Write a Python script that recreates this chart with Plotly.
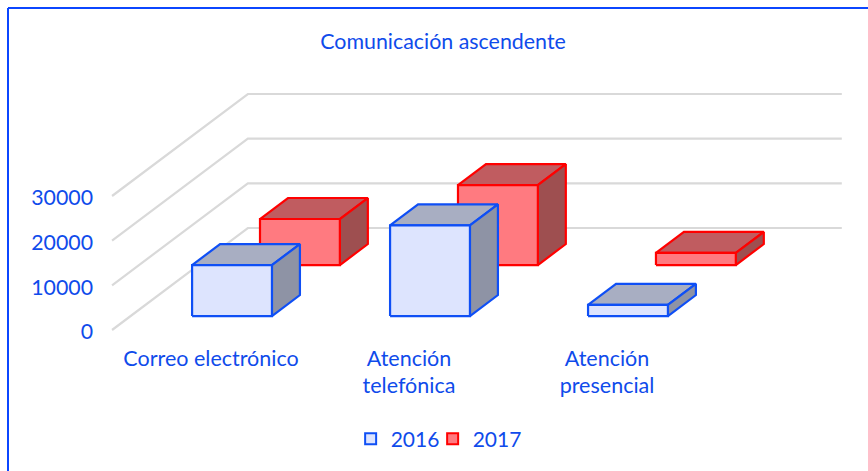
import plotly.graph_objects as go

categories = ["Correo electrónico", "Atención<br>telefónica", "Atención<br>presencial"]
years = ["2016", "2017"]
values_2016 = [11400, 20300, 2500]
values_2017 = [10300, 17900, 2700]
value_ticks = [0, 10000, 20000, 30000]

TEXT = "#0F4BEB"
BORDER = "#0B46FF"
GRID = "#D9D9D9"
STYLE = {
    "2016": dict(line="#0F4FF5", front="#DDE4FE", top="#A8AEC2", side="#8E93A5", depth=0.137, legend="legend"),
    "2017": dict(line="#FF0000", front="#FF7A80", top="#C05C60", side="#9E4F50", depth=0.637, legend="legend2"),
}

# Oblique projection: one depth unit shifts right (category units) and up (value units)
DX, DY = 0.686, 22835
BAR_HALF, BAR_DEPTH, ADJ = 0.2017, 0.206, 0.012
BAND = 0.5


def project(x, depth, v):
    return x + depth * DX, v + depth * DY


def poly(pts):
    xs, ys = zip(*[project(*p) for p in pts])
    return list(xs) + [xs[0]], list(ys) + [ys[0]]


fig = go.Figure()

# Wall and floor gridlines
for v in value_ticks:
    xs, ys = zip(*[project(-BAND, 0, v), project(-BAND, 1, v), project(len(categories) - BAND, 1, v)])
    fig.add_trace(go.Scatter(x=xs, y=ys, mode="lines", line=dict(color=GRID, width=2.2),
                             showlegend=False, hoverinfo="skip"))


def add_bar(i, v, st):
    d0 = st["depth"]
    d1 = d0 + BAR_DEPTH
    x0 = i - BAR_HALF + ADJ
    x1 = i + BAR_HALF + ADJ
    faces = [
        ([(x0, d0, v), (x1, d0, v), (x1, d1, v), (x0, d1, v)], st["top"]),
        ([(x1, d0, 0), (x1, d1, 0), (x1, d1, v), (x1, d0, v)], st["side"]),
        ([(x0, d0, 0), (x1, d0, 0), (x1, d0, v), (x0, d0, v)], st["front"]),
    ]
    for pts, col in faces:
        xs, ys = poly(pts)
        fig.add_trace(go.Scatter(x=xs, y=ys, mode="lines", fill="toself", fillcolor=col,
                                 line=dict(color=st["line"], width=2.2, simplify=False),
                                 showlegend=False, hoverinfo="skip"))


# Back series first
for name, vals in [("2017", values_2017), ("2016", values_2016)]:
    for i, v in enumerate(vals):
        add_bar(i, v, STYLE[name])

# Legend entries
for name in years:
    st = STYLE[name]
    fig.add_trace(go.Scatter(x=[None], y=[None], mode="markers", name=name, legend=st["legend"],
                             marker=dict(symbol="square", size=11, color=st["front"],
                                         line=dict(color=st["line"], width=2))))

LEGEND_COMMON = dict(orientation="h", xanchor="left", y=-0.33, yanchor="middle",
                     bgcolor="rgba(0,0,0,0)", font=dict(size=21),
                     itemclick=False, itemdoubleclick=False)

fig.update_layout(
    width=868, height=471,
    margin=dict(l=97, r=25, t=60, b=126, autoexpand=False),
    paper_bgcolor="white", plot_bgcolor="white",
    font=dict(family="Lato", size=21.3, color=TEXT),
    title=dict(text="Comunicación ascendente", x=443 / 868, xref="container", xanchor="center",
               y=1 - 42 / 471, yref="container", yanchor="middle", font=dict(size=21.4, color=TEXT)),
    xaxis=dict(range=[-0.576, 3.192], tickmode="array", tickvals=list(range(len(categories))),
               ticktext=categories, showgrid=False, zeroline=False, showline=False, ticks="",
               ticklabelstandoff=-2, tickfont=dict(size=21.5)),
    yaxis=dict(range=[-3358, 60447], tickmode="array", tickvals=value_ticks,
               ticktext=[str(v) for v in value_ticks], showgrid=False, zeroline=False,
               showline=False, ticks="", ticklabelstandoff=3, ticklabelshift=2),
    legend=dict(x=0.34, **LEGEND_COMMON),
    legend2=dict(x=0.34 + 82 / 746, **LEGEND_COMMON),
    shapes=[
        dict(type="line", xref="paper", yref="paper", x0=-89 / 746, x1=771 / 746,
             y0=1 + 52 / 285, y1=1 + 52 / 285, line=dict(color=BORDER, width=2)),
        dict(type="line", xref="paper", yref="paper", x0=-89 / 746, x1=-89 / 746,
             y0=1 + 52 / 285, y1=-126 / 285, line=dict(color=BORDER, width=2)),
    ],
)

fig.write_html("out.html", config={"displayModeBar": False},
               post_script="document.body.style.margin='0';document.documentElement.style.overflow='hidden';")
